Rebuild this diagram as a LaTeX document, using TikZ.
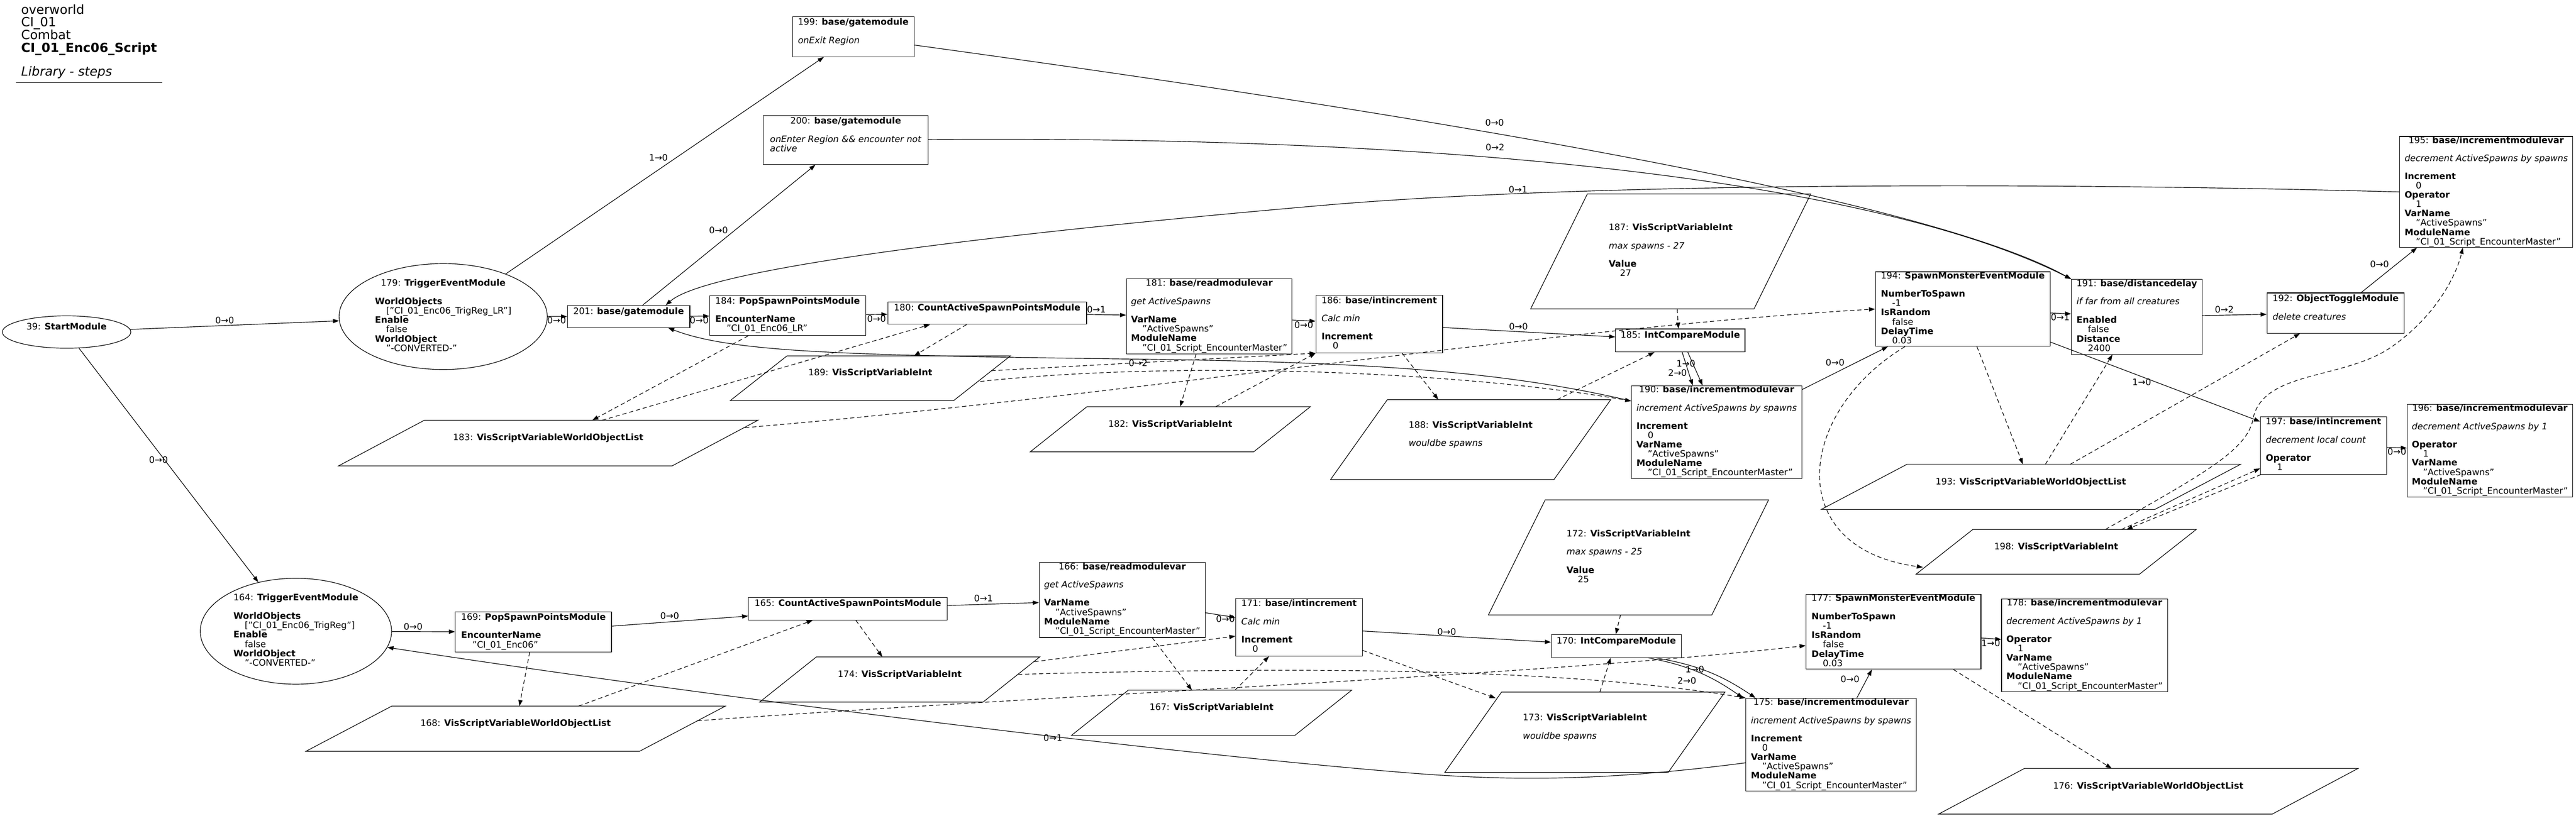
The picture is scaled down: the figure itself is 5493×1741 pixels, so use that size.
\documentclass[tikz,border=0pt]{standalone}
\usepackage{fontspec}
\setmainfont{DejaVu Sans}
\usetikzlibrary{shapes.geometric, arrows.meta}

\newcommand{\nodefont}{\fontsize{19}{19}\selectfont}
\newcommand{\tb}[1]{\begin{tabular}{@{}l@{}}#1\end{tabular}}
\newcommand{\hd}[2]{\multicolumn{1}{@{}c@{}}{#1: \textbf{#2}}}
\newcommand{\pv}[2]{\textbf{#1}\\\hspace*{24pt}#2}

\tikzset{
  modbox/.style={draw, rectangle, line width=1.3pt, inner sep=0pt, font=\nodefont},
  modell/.style={draw, ellipse, line width=1.3pt, inner sep=0pt, font=\nodefont},
  varbox/.style={rectangle, inner sep=0pt, font=\nodefont},
  flow/.style={line width=1.3pt, -{Triangle[length=13pt,width=9pt]}},
  varlink/.style={flow, dash pattern=on 9pt off 6pt},
  lbl/.style={inner sep=0pt, font=\nodefont},
  hdr/.style={inner sep=0pt, anchor=base west, font=\fontsize{27}{27}\selectfont}
}

\begin{document}
\begin{tikzpicture}[x=1pt,y=-1pt]
\fill[white] (0,0) rectangle (5493,1741);
\useasboundingbox (0,0) rectangle (5493,1741);

% Header
\node[hdr] (hdA) at (45,30) {overworld};
\node[hdr] (hdB) at (45,57) {CI\_01};
\node[hdr] (hdC) at (45,84) {Combat};
\node[hdr] (hdD) at (45,111) {\textbf{CI\_01\_Enc06\_Script}};
\node[hdr] (hdE) at (45,162) {\textit{Library - steps}};
\draw[line width=1.3pt] (34,176) -- (346,176);

% Upper chain
\node[modell, minimum width=274pt, minimum height=69pt] (n39) at (142,708.5) {\tb{\hd{39}{StartModule}\\ \mbox{}}};
\node[modell, minimum width=444pt, minimum height=226pt] (n179) at (945,675.5) {\tb{\hd{179}{TriggerEventModule}\\ \\ \pv{WorldObjects}{["CI\_01\_Enc06\_TrigReg\_LR"]}\\ \pv{Enable}{false}\\ \pv{WorldObject}{"-CONVERTED-"}}};
\node[modbox, minimum width=259pt, minimum height=85pt] (n199) at (1819.5,78.5) {\tb{\hd{199}{base/gatemodule}\\ \\ \textit{onExit Region}\\ \mbox{}}};
\node[modbox, minimum width=351pt, minimum height=104pt] (n200) at (1803.5,299) {\tb{\hd{200}{base/gatemodule}\\ \\ \textit{onEnter Region \&\& encounter not}\\ \textit{active}\\ \mbox{}}};
\node[modbox, minimum width=261pt, minimum height=47pt] (n201) at (1340.5,675.5) {\tb{\hd{201}{base/gatemodule}\\ \mbox{}}};
\node[modbox, minimum width=333pt, minimum height=85pt] (n184) at (1679.5,673.5) {\tb{\hd{184}{PopSpawnPointsModule}\\ \\ \pv{EncounterName}{"CI\_01\_Enc06\_LR"}}};
\node[modbox, minimum width=424pt, minimum height=48pt] (n180) at (2105,668) {\tb{\hd{180}{CountActiveSpawnPointsModule}\\ \mbox{}}};
\node[modbox, minimum width=353pt, minimum height=160pt] (n181) at (2578.5,675) {\tb{\hd{181}{base/readmodulevar}\\ \\ \textit{get ActiveSpawns}\\ \\ \pv{VarName}{"ActiveSpawns"}\\ \pv{ModuleName}{"CI\_01\_Script\_EncounterMaster"}}};
\node[modbox, minimum width=270pt, minimum height=123pt] (n186) at (2941,691.5) {\tb{\hd{186}{base/intincrement}\\ \\ \textit{Calc min}\\ \\ \pv{Increment}{0}}};
\node[modbox, minimum width=276pt, minimum height=49pt] (n185) at (3583,726.5) {\tb{\hd{185}{IntCompareModule}\\ \mbox{}}};
\node[modbox, minimum width=363pt, minimum height=196pt] (n190) at (3660.5,922) {\tb{\hd{190}{base/incrementmodulevar}\\ \\ \textit{increment ActiveSpawns by spawns}\\ \\ \pv{Increment}{0}\\ \pv{VarName}{"ActiveSpawns"}\\ \pv{ModuleName}{"CI\_01\_Script\_EncounterMaster"}}};
\node[modbox, minimum width=373pt, minimum height=159pt] (n194) at (4185.5,659.5) {\tb{\hd{194}{SpawnMonsterEventModule}\\ \\ \pv{NumberToSpawn}{-1}\\ \pv{IsRandom}{false}\\ \pv{DelayTime}{0.03}}};
\node[modbox, minimum width=279pt, minimum height=160pt] (n191) at (4556.5,676) {\tb{\hd{191}{base/distancedelay}\\ \\ \textit{if far from all creatures}\\ \\ \pv{Enabled}{false}\\ \pv{Distance}{2400}}};
\node[modbox, minimum width=293pt, minimum height=86pt] (n192) at (4980.5,668) {\tb{\hd{192}{ObjectToggleModule}\\ \\ \textit{delete creatures}\\ \mbox{}}};
\node[modbox, minimum width=369pt, minimum height=235pt] (n195) at (5301.5,409.5) {\tb{\hd{195}{base/incrementmodulevar}\\ \\ \textit{decrement ActiveSpawns by spawns}\\ \\ \pv{Increment}{0}\\ \pv{Operator}{1}\\ \pv{VarName}{"ActiveSpawns"}\\ \pv{ModuleName}{"CI\_01\_Script\_EncounterMaster"}}};
\node[modbox, minimum width=269pt, minimum height=123pt] (n197) at (4954.5,950.5) {\tb{\hd{197}{base/intincrement}\\ \\ \textit{decrement local count}\\ \\ \pv{Operator}{1}}};
\node[modbox, minimum width=353pt, minimum height=197pt] (n196) at (5309.5,961.5) {\tb{\hd{196}{base/incrementmodulevar}\\ \\ \textit{decrement ActiveSpawns by 1}\\ \\ \pv{Operator}{1}\\ \pv{VarName}{"ActiveSpawns"}\\ \pv{ModuleName}{"CI\_01\_Script\_EncounterMaster"}}};

% Upper variables
\node[varbox, minimum width=476pt, minimum height=245pt] (n187) at (3562.5,536.5) {\tb{\hd{187}{VisScriptVariableInt}\\ \\ \textit{max spawns - 27}\\ \\ \pv{Value}{27}}};
\node[varbox, minimum width=476pt, minimum height=96pt] (n182) at (2495.5,916) {\tb{\hd{182}{VisScriptVariableInt}\\ \mbox{}}};
\node[varbox, minimum width=476pt, minimum height=170pt] (n188) at (3136,938) {\tb{\hd{188}{VisScriptVariableInt}\\ \\ \textit{wouldbe spawns}\\ \mbox{}}};
\node[varbox, minimum width=476pt, minimum height=95pt] (n189) at (1856,807) {\tb{\hd{189}{VisScriptVariableInt}\\ \mbox{}}};
\node[varbox, minimum width=711pt, minimum height=97pt] (n183) at (1169,945.5) {\tb{\hd{183}{VisScriptVariableWorldObjectList}\\ \mbox{}}};
\node[varbox, minimum width=711pt, minimum height=96pt] (n193) at (4330.5,1039) {\tb{\hd{193}{VisScriptVariableWorldObjectList}\\ \mbox{}}};
\node[varbox, minimum width=476pt, minimum height=95pt] (n198) at (4384.5,1177.5) {\tb{\hd{198}{VisScriptVariableInt}\\ \mbox{}}};

% Lower chain
\node[modell, minimum width=408pt, minimum height=226pt] (n164) at (631,1347) {\tb{\hd{164}{TriggerEventModule}\\ \\ \pv{WorldObjects}{["CI\_01\_Enc06\_TrigReg"]}\\ \pv{Enable}{false}\\ \pv{WorldObject}{"-CONVERTED-"}}};
\node[modbox, minimum width=333pt, minimum height=85pt] (n169) at (1137.5,1348.5) {\tb{\hd{169}{PopSpawnPointsModule}\\ \\ \pv{EncounterName}{"CI\_01\_Enc06"}}};
\node[modbox, minimum width=424pt, minimum height=48pt] (n165) at (1808,1299) {\tb{\hd{165}{CountActiveSpawnPointsModule}\\ \mbox{}}};
\node[modbox, minimum width=354pt, minimum height=160pt] (n166) at (2393,1280) {\tb{\hd{166}{base/readmodulevar}\\ \\ \textit{get ActiveSpawns}\\ \\ \pv{VarName}{"ActiveSpawns"}\\ \pv{ModuleName}{"CI\_01\_Script\_EncounterMaster"}}};
\node[modbox, minimum width=270pt, minimum height=123pt] (n171) at (2770,1338.5) {\tb{\hd{171}{base/intincrement}\\ \\ \textit{Calc min}\\ \\ \pv{Increment}{0}}};
\node[modbox, minimum width=277pt, minimum height=49pt] (n170) at (3446.5,1378.5) {\tb{\hd{170}{IntCompareModule}\\ \mbox{}}};
\node[modbox, minimum width=363pt, minimum height=198pt] (n175) at (3904.5,1589) {\tb{\hd{175}{base/incrementmodulevar}\\ \\ \textit{increment ActiveSpawns by spawns}\\ \\ \pv{Increment}{0}\\ \pv{VarName}{"ActiveSpawns"}\\ \pv{ModuleName}{"CI\_01\_Script\_EncounterMaster"}}};
\node[modbox, minimum width=373pt, minimum height=160pt] (n177) at (4037.5,1348) {\tb{\hd{177}{SpawnMonsterEventModule}\\ \\ \pv{NumberToSpawn}{-1}\\ \pv{IsRandom}{false}\\ \pv{DelayTime}{0.03}}};
\node[modbox, minimum width=354pt, minimum height=198pt] (n178) at (4445,1377) {\tb{\hd{178}{base/incrementmodulevar}\\ \\ \textit{decrement ActiveSpawns by 1}\\ \\ \pv{Operator}{1}\\ \pv{VarName}{"ActiveSpawns"}\\ \pv{ModuleName}{"CI\_01\_Script\_EncounterMaster"}}};

% Lower variables
\node[varbox, minimum width=711pt, minimum height=96pt] (n168) at (1099.5,1555) {\tb{\hd{168}{VisScriptVariableWorldObjectList}\\ \mbox{}}};
\node[varbox, minimum width=476pt, minimum height=96pt] (n174) at (1918.5,1450) {\tb{\hd{174}{VisScriptVariableInt}\\ \mbox{}}};
\node[varbox, minimum width=476pt, minimum height=96pt] (n167) at (2583.5,1521) {\tb{\hd{167}{VisScriptVariableInt}\\ \mbox{}}};
\node[varbox, minimum width=476pt, minimum height=245pt] (n172) at (3472.5,1189.5) {\tb{\hd{172}{VisScriptVariableInt}\\ \\ \textit{max spawns - 25}\\ \\ \pv{Value}{25}}};
\node[varbox, minimum width=476pt, minimum height=171pt] (n173) at (3379.5,1562.5) {\tb{\hd{173}{VisScriptVariableInt}\\ \\ \textit{wouldbe spawns}\\ \mbox{}}};
\node[varbox, minimum width=711pt, minimum height=97pt] (n176) at (4581,1688.5) {\tb{\hd{176}{VisScriptVariableWorldObjectList}\\ \mbox{}}};

% Parallelogram outlines
\foreach \v/\h in {n187/60.5, n182/60.5, n188/60.5, n189/60.5, n198/60.5, n172/60.5, n173/60.5, n174/60.5, n167/60.5, n183/91.5, n193/91.5, n176/91.5, n168/91.5}
  \draw[line width=1.3pt] ([xshift=-\h pt]\v.south west) -- ([xshift=-\h pt]\v.south east) -- ([xshift=\h pt]\v.north east) -- ([xshift=\h pt]\v.north west) -- cycle;

% Flow edges, upper
\draw[flow] (n39) -- (n179);
\draw[flow] (n39) -- (n164);
\draw[flow] (n179) -- (n199);
\draw[flow] (n179) -- (n201);
\draw[flow] (n201) -- (n200);
\draw[flow] (n201) -- (n184);
\draw[flow] (n184) -- (n180);
\draw[flow] (n180) -- (n181);
\draw[flow] (n181) -- (n186);
\draw[flow] (n186) -- (n185);
\draw[flow] ([xshift=4pt]n185.south) -- ([xshift=-51pt]n190.north);
\draw[flow] ([xshift=16pt]n185.south) -- ([xshift=-30pt]n190.north);
\draw[flow] (n190) -- (n194);
\draw[flow] (n194) -- (n191);
\draw[flow] (n194) -- (n197);
\draw[flow] (n191) -- (n192);
\draw[flow] (n192) -- (n195);
\draw[flow] (n197) -- (n196);
\draw[flow] (n199) .. controls (3000,240) and (4100,420) .. (n191.north west);
\draw[flow] (n200) .. controls (3250,288) and (4050,410) .. (n191.north west);
\draw[flow] (n195.west) .. controls (4200,385) and (3300,395) .. (2800,440) .. controls (2000,510) and (1500,580) .. (n201.17);
\draw[flow] (n190.160) .. controls (3200,790) and (2900,772) .. (2400,766) .. controls (1800,758) and (1560,752) .. (n201.-16);

% Flow edges, lower
\draw[flow] (n164) -- (n169);
\draw[flow] (n169) -- (n165);
\draw[flow] (n165) -- (n166);
\draw[flow] (n166) -- (n171);
\draw[flow] (n171) -- (n170);
\draw[flow] ([xshift=68pt]n170.south) to[bend left=12] ([xshift=-188pt]n175.north);
\draw[flow] ([xshift=84pt]n170.south) to[bend left=12] ([xshift=-161pt]n175.north);
\draw[flow] ([xshift=55pt]n175.north) -- ([xshift=-46pt]n177.south);
\draw[flow] (n177) -- (n178);
\draw[flow] (n175.192) .. controls (3400,1670) and (3200,1665) .. (3000,1649) .. controls (2400,1600) and (1400,1470) .. (n164.-10);

% Variable links, upper
\draw[varlink] ([xshift=-84pt]n184.south) -- ([xshift=94pt]n183.north);
\draw[varlink] ([xshift=115pt]n183.north) -- ([xshift=-122pt]n180.south);
\draw[varlink] ([xshift=-44pt]n180.south) -- ([xshift=93pt]n189.north);
\draw[varlink] ([xshift=20pt,yshift=16pt]n189.east) -- (n186.south west);
\draw[varlink] ([xshift=-4pt,yshift=-7pt]n189.east) .. controls (2500,770) and (3100,790) .. (n190.160);
\draw[varlink] ([xshift=64pt,yshift=33pt]n183.east) .. controls (2400,845) and (3300,700) .. (n194.west);
\draw[varlink] ([xshift=-28pt]n181.south) -- ([xshift=21pt]n182.north);
\draw[varlink] ([xshift=97pt]n182.north) -- (n186.south west);
\draw[varlink] ([xshift=49pt]n186.south) -- ([xshift=-69pt]n188.north);
\draw[varlink] ([xshift=184pt]n188.north) -- ([xshift=-55pt]n185.south);
\draw[varlink] ([xshift=14pt]n187.south) -- ([xshift=-4pt]n185.north);
\draw[varlink] ([xshift=30pt]n194.south) -- ([xshift=-17pt]n193.north);
\draw[varlink] ([xshift=31pt]n193.north) -- ([xshift=-52pt]n191.south);
\draw[varlink] ([xshift=84pt]n193.north) -- ([xshift=-76pt]n192.south);
\draw[varlink] (n194.213) .. controls (3830,880) and (3800,1170) .. ([xshift=-46pt,yshift=-33pt]n198.west);
\draw[varlink] ([xshift=139pt]n198.north) -- (n197.200);
\draw[varlink] (n197.205) -- ([xshift=150pt]n198.north);
\draw[varlink] ([xshift=105pt]n198.north) .. controls (4700,1010) and (4795,960) .. (4805,890) .. controls (4830,790) and (5000,810) .. (5100,740) .. controls (5200,670) and (5240,580) .. ([xshift=-50pt]n195.south);

% Variable links, lower
\draw[varlink] ([xshift=-8pt]n169.south) -- ([xshift=8pt]n168.north);
\draw[varlink] ([xshift=134pt]n168.north) -- ([xshift=-75pt]n165.south);
\draw[varlink] ([xshift=17pt]n165.south) -- ([xshift=-37pt]n174.north);
\draw[varlink] ([xshift=49pt,yshift=38pt]n174.east) -- (n171.188);
\draw[varlink] ([xshift=14pt,yshift=11pt]n174.east) .. controls (2700,1425) and (3300,1420) .. (n175.north west);
\draw[varlink] ([xshift=32pt,yshift=17pt]n168.east) .. controls (2300,1480) and (3300,1440) .. (n177.189);
\draw[varlink] ([xshift=64pt]n166.south) -- ([xshift=-42pt]n167.north);
\draw[varlink] ([xshift=50pt]n167.north) -- ([xshift=-64pt]n171.south);
\draw[varlink] (n171.-20) -- ([xshift=48pt,yshift=-13pt]n173.north west);
\draw[varlink] ([xshift=32pt]n173.north) -- ([xshift=-12pt]n170.south);
\draw[varlink] ([xshift=-17pt]n172.south) -- ([xshift=-1pt]n170.north);
\draw[varlink] ([xshift=128pt]n177.south) -- ([xshift=-78pt]n176.north);

% Edge labels
\foreach \x/\y/\t [count=\i] in {479/683/0→0, 338/981/0→0, 1404/336/1→0, 1187/684/0→0,
    1532/491/0→0, 1491/684/0→0, 1869/680/0→0, 2338/661/0→1, 2780/693/0→0,
    3238/697/0→0, 3595/776/1→0, 3577/796/2→0, 3913/774/0→0, 4393/677/0→1,
    4743/660/0→2, 5074/564/0→0, 4567/815/1→0, 5111/964/0→0, 3187/262/0→0,
    3188/314/0→2, 3237/405/0→1, 2427/775/0→2, 881/1337/0→0, 1428/1314/0→0,
    2097/1277/0→1, 2613/1321/0→0, 3085/1348/0→0, 3614/1428/1→0, 3597/1453/2→0,
    3945/1449/0→0, 4245/1372/1→0, 2245/1574/0→1}
  \node[lbl] (lb\i) at (\x,\y) {\t};

\end{tikzpicture}
\end{document}
